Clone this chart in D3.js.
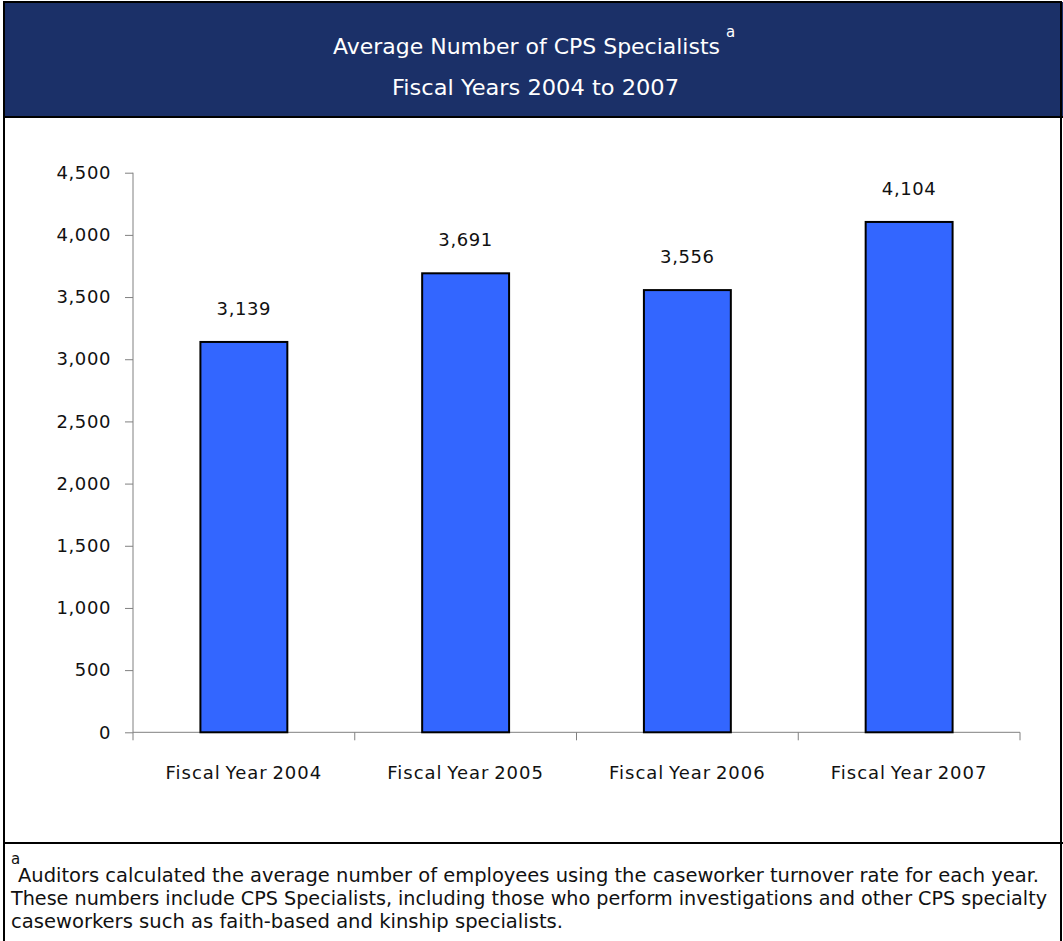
<!DOCTYPE html>
<html>
<head>
<meta charset="utf-8">
<script src="https://cdn.jsdelivr.net/npm/d3@7"></script>
<style>
  body { margin: 0; background: #fff; }
  svg { display: block; }
  text { font-family: "DejaVu Sans", sans-serif; }
</style>
</head>
<body>
<script>
/* Data */
var categories = ["Fiscal Year 2004", "Fiscal Year 2005", "Fiscal Year 2006", "Fiscal Year 2007"];
var values = [3139, 3691, 3556, 4104];
var yTicks = [0, 500, 1000, 1500, 2000, 2500, 3000, 3500, 4000, 4500];
var titleLines = ["Average Number of CPS Specialists", "Fiscal Years 2004 to 2007"];
var noteLines = [
  "Auditors calculated the average number of employees using the caseworker turnover rate for each year.",
  "These numbers include CPS Specialists, including those who perform investigations and other CPS specialty",
  "caseworkers such as faith-based and kinship specialists."
];

/* Display setup */
var W = 1063, H = 941,
    frameX = 4,
    plot = {left: 133, right: 1020, top: 172.7, bottom: 732.3},
    navy = "#1b3068",
    barColor = "#3366ff",
    svg = d3.select("body").append("svg")
        .attr("width", W)
        .attr("height", H);

// header band + frame
svg.append("rect")
    .attr("x", frameX).attr("y", 2)
    .attr("width", W - frameX).attr("height", 115)
    .style("fill", navy);
svg.append("rect")
    .attr("x", frameX).attr("y", 2)
    .attr("width", W - frameX - 2).attr("height", H + 5)
    .style("fill", "none")
    .style("stroke", "black")
    .style("stroke-width", 2);
svg.append("line")
    .attr("x1", frameX).attr("x2", W).attr("y1", 117).attr("y2", 117)
    .style("stroke", "black").style("stroke-width", 2);
svg.append("line")
    .attr("x1", frameX).attr("x2", W).attr("y1", 843).attr("y2", 843)
    .style("stroke", "black").style("stroke-width", 2);

// title
svg.append("text")
    .attr("x", 333).attr("y", 54)
    .attr("textLength", 387)
    .attr("lengthAdjust", "spacingAndGlyphs")
    .style("fill", "white")
    .style("font-size", "22px")
    .text(titleLines[0]);
svg.append("text")
    .attr("x", 726).attr("y", 37)
    .style("fill", "white")
    .style("font-size", "15px")
    .text("a");
svg.append("text")
    .attr("x", 392).attr("y", 95)
    .attr("textLength", 287)
    .attr("lengthAdjust", "spacingAndGlyphs")
    .style("fill", "white")
    .style("font-size", "22px")
    .text(titleLines[1]);

/* Scales */
var x = d3.scaleBand()
    .domain(categories)
    .range([plot.left, plot.right])
    .paddingInner(0.608)
    .paddingOuter(0.304);
var y = d3.scaleLinear()
    .domain([0, 4500])
    .range([plot.bottom, plot.top]);

var g = svg.append("g");

// y axis
var yAxis = g.append("g")
    .attr("transform", "translate(" + plot.left + ",0)")
    .call(d3.axisLeft(y).tickValues(yTicks).tickSize(8).tickPadding(14)
        .tickFormat(d3.format(",")));
yAxis.select(".domain").attr("stroke", "#808080").attr("d", "M0," + y(4500) + "V" + y(0));
yAxis.selectAll(".tick line").attr("stroke", "#808080");
yAxis.selectAll(".tick text")
    .style("font-size", "18px")
    .style("letter-spacing", "0.6px")
    .style("font-family", "DejaVu Sans, sans-serif")
    .style("fill", "#111");

// x axis line + ticks at band boundaries
g.append("line")
    .attr("x1", plot.left).attr("x2", plot.right)
    .attr("y1", y(0)).attr("y2", y(0))
    .style("stroke", "#808080");
var bounds = categories.map(function(c) { return x(c) - x.step() * x.paddingInner() / 2; });
bounds.push(plot.right);
g.selectAll(".xtick")
    .data(bounds)
    .enter().append("line")
    .attr("class", "xtick")
    .attr("x1", function(d) { return d; }).attr("x2", function(d) { return d; })
    .attr("y1", y(0)).attr("y2", y(0) + 8)
    .style("stroke", "#808080");

g.selectAll(".xlabel")
    .data(categories)
    .enter().append("text")
    .attr("class", "xlabel")
    .attr("x", function(d) { return x(d) + x.bandwidth() / 2; })
    .attr("y", y(0) + 47)
    .attr("text-anchor", "middle")
    .style("font-size", "18px")
    .style("letter-spacing", "1px")
    .style("word-spacing", "-2px")
    .style("fill", "#111")
    .text(function(d) { return d; });

// bars
g.selectAll(".bar")
    .data(values)
    .enter().append("rect")
    .attr("class", "bar")
    .attr("x", function(d, i) { return x(categories[i]); })
    .attr("y", function(d) { return y(d); })
    .attr("width", x.bandwidth())
    .attr("height", function(d) { return y(0) - y(d); })
    .style("fill", barColor)
    .style("stroke", "black")
    .style("stroke-width", 2);

g.selectAll(".vlabel")
    .data(values)
    .enter().append("text")
    .attr("class", "vlabel")
    .attr("x", function(d, i) { return x(categories[i]) + x.bandwidth() / 2; })
    .attr("y", function(d) { return y(d) - 27; })
    .attr("text-anchor", "middle")
    .style("font-size", "18px")
    .style("letter-spacing", "0.6px")
    .style("fill", "#111")
    .text(d3.format(","));

// footnote
var noteX = [18, 11, 11],
    noteLen = [1021, 1036, 552];
svg.append("text")
    .attr("x", 11).attr("y", 864)
    .style("font-size", "15px")
    .style("fill", "#111")
    .text("a");
svg.selectAll(".note")
    .data(noteLines)
    .enter().append("text")
    .attr("class", "note")
    .attr("x", function(d, i) { return noteX[i]; })
    .attr("y", function(d, i) { return 882 + i * 23; })
    .attr("textLength", function(d, i) { return noteLen[i]; })
    .attr("lengthAdjust", "spacingAndGlyphs")
    .style("font-family", "'DejaVu Sans Condensed', 'DejaVu Sans', sans-serif")
    .style("font-size", "19px")
    .style("fill", "#111")
    .text(function(d) { return d; });
</script>
</body>
</html>
